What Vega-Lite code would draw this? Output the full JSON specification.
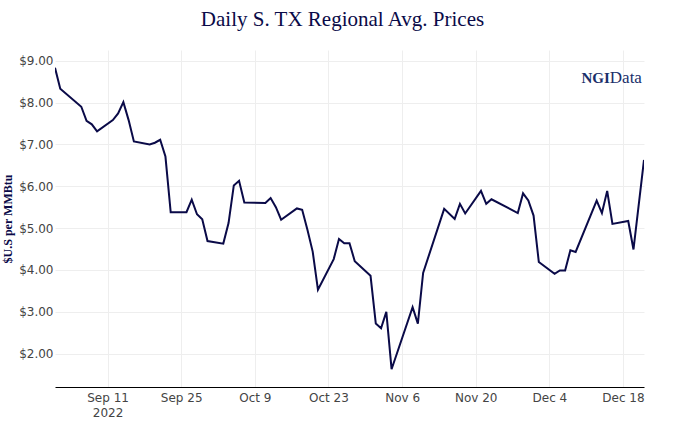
{
  "$schema": "https://vega.github.io/schema/vega-lite/v6.json",
  "autosize": "none",
  "width": 589,
  "height": 337,
  "padding": {"left": 55, "top": 50, "right": 40, "bottom": 40},
  "background": "white",
  "title": {
    "text": "Daily S. TX Regional Avg. Prices",
    "font": "Liberation Serif",
    "fontSize": 21,
    "fontWeight": "normal",
    "color": "#0a0a48",
    "anchor": "middle",
    "baseline": "alphabetic",
    "offset": 3,
    "dx": -7
  },
  "config": {
    "view": {"stroke": null},
    "axis": {"gridColor": "#eeeeee", "gridWidth": 1, "ticks": false}
  },
  "datasets": {
    "prices": [
      {"date": "2022-09-01", "price": 8.83},
      {"date": "2022-09-02", "price": 8.33},
      {"date": "2022-09-06", "price": 7.90},
      {"date": "2022-09-07", "price": 7.56},
      {"date": "2022-09-08", "price": 7.48},
      {"date": "2022-09-09", "price": 7.31},
      {"date": "2022-09-12", "price": 7.58},
      {"date": "2022-09-13", "price": 7.74},
      {"date": "2022-09-14", "price": 8.01},
      {"date": "2022-09-15", "price": 7.58},
      {"date": "2022-09-16", "price": 7.07},
      {"date": "2022-09-19", "price": 7.00},
      {"date": "2022-09-20", "price": 7.04},
      {"date": "2022-09-21", "price": 7.11},
      {"date": "2022-09-22", "price": 6.71},
      {"date": "2022-09-23", "price": 5.38},
      {"date": "2022-09-26", "price": 5.38},
      {"date": "2022-09-27", "price": 5.68},
      {"date": "2022-09-28", "price": 5.33},
      {"date": "2022-09-29", "price": 5.21},
      {"date": "2022-09-30", "price": 4.69},
      {"date": "2022-10-03", "price": 4.63},
      {"date": "2022-10-04", "price": 5.12},
      {"date": "2022-10-05", "price": 6.02},
      {"date": "2022-10-06", "price": 6.13},
      {"date": "2022-10-07", "price": 5.61},
      {"date": "2022-10-11", "price": 5.60},
      {"date": "2022-10-12", "price": 5.72},
      {"date": "2022-10-13", "price": 5.50},
      {"date": "2022-10-14", "price": 5.20},
      {"date": "2022-10-17", "price": 5.47},
      {"date": "2022-10-18", "price": 5.44},
      {"date": "2022-10-19", "price": 4.96},
      {"date": "2022-10-20", "price": 4.44},
      {"date": "2022-10-21", "price": 3.53},
      {"date": "2022-10-24", "price": 4.26},
      {"date": "2022-10-25", "price": 4.74},
      {"date": "2022-10-26", "price": 4.64},
      {"date": "2022-10-27", "price": 4.64},
      {"date": "2022-10-28", "price": 4.21},
      {"date": "2022-10-31", "price": 3.86},
      {"date": "2022-11-01", "price": 2.72},
      {"date": "2022-11-02", "price": 2.61},
      {"date": "2022-11-03", "price": 3.00},
      {"date": "2022-11-04", "price": 1.63},
      {"date": "2022-11-08", "price": 3.11},
      {"date": "2022-11-09", "price": 2.72},
      {"date": "2022-11-10", "price": 3.93},
      {"date": "2022-11-14", "price": 5.46},
      {"date": "2022-11-16", "price": 5.22},
      {"date": "2022-11-17", "price": 5.58},
      {"date": "2022-11-18", "price": 5.35},
      {"date": "2022-11-21", "price": 5.89},
      {"date": "2022-11-22", "price": 5.58},
      {"date": "2022-11-23", "price": 5.69},
      {"date": "2022-11-28", "price": 5.36},
      {"date": "2022-11-29", "price": 5.83},
      {"date": "2022-11-30", "price": 5.66},
      {"date": "2022-12-01", "price": 5.30},
      {"date": "2022-12-02", "price": 4.19},
      {"date": "2022-12-05", "price": 3.91},
      {"date": "2022-12-06", "price": 3.99},
      {"date": "2022-12-07", "price": 3.99},
      {"date": "2022-12-08", "price": 4.47},
      {"date": "2022-12-09", "price": 4.43},
      {"date": "2022-12-13", "price": 5.66},
      {"date": "2022-12-14", "price": 5.36},
      {"date": "2022-12-15", "price": 5.89},
      {"date": "2022-12-16", "price": 5.10},
      {"date": "2022-12-19", "price": 5.17},
      {"date": "2022-12-20", "price": 4.49},
      {"date": "2022-12-22", "price": 6.63}
    ],
    "logo": [
      {"date": "2022-12-15T12:00:00Z", "price": 8.59, "label": "NGI", "part": "bold"},
      {"date": "2022-12-15T12:00:00Z", "price": 8.59, "label": "Data", "part": "normal"}
    ]
  },
  "layer": [
    {
      "data": {"name": "prices"},
      "mark": {"type": "line", "color": "#0a0a48", "strokeWidth": 2, "clip": true},
      "encoding": {
        "x": {
          "field": "date",
          "type": "temporal",
          "scale": {"type": "utc", "domain": [{"year": 2022, "month": 9, "date": 1, "utc": true}, {"year": 2022, "month": 12, "date": 22, "utc": true}], "nice": false},
          "axis": {
            "title": null,
            "values": [
              {"year": 2022, "month": 9, "date": 11, "utc": true},
              {"year": 2022, "month": 9, "date": 25, "utc": true},
              {"year": 2022, "month": 10, "date": 9, "utc": true},
              {"year": 2022, "month": 10, "date": 23, "utc": true},
              {"year": 2022, "month": 11, "date": 6, "utc": true},
              {"year": 2022, "month": 11, "date": 20, "utc": true},
              {"year": 2022, "month": 12, "date": 4, "utc": true},
              {"year": 2022, "month": 12, "date": 18, "utc": true}
            ],
            "labelExpr": "utcmonth(datum.value) == 8 && utcdate(datum.value) == 11 ? ['Sep 11', '2022'] : utcFormat(datum.value, '%b %-d')",
            "labelFont": "DejaVu Sans",
            "labelFontSize": 12,
            "labelColor": "#444444",
            "labelPadding": 5,
            "labelLineHeight": 15,
            "labelBaseline": "top",
            "domain": true,
            "domainColor": "#000000",
            "domainWidth": 1,
            "grid": true
          }
        },
        "y": {
          "field": "price",
          "type": "quantitative",
          "scale": {"domain": [1.205, 9.255], "nice": false, "zero": false},
          "axis": {
            "title": "$U.S per MMBtu",
            "titleFont": "Liberation Serif",
            "titleFontWeight": "bold",
            "titleFontSize": 12,
            "titleColor": "#0a0a48",
            "titlePadding": 4,
            "values": [2, 3, 4, 5, 6, 7, 8, 9],
            "format": "$.2f",
            "labelFont": "DejaVu Sans",
            "labelFontSize": 12,
            "labelColor": "#444444",
            "labelPadding": 2,
            "domain": false,
            "grid": true
          }
        }
      }
    },
    {
      "data": {"name": "logo"},
      "transform": [{"filter": "datum.part == 'bold'"}],
      "mark": {"type": "text", "font": "Liberation Serif", "fontWeight": "bold", "fontSize": 15, "color": "#1a2f6b", "align": "right", "baseline": "middle"},
      "encoding": {
        "x": {"field": "date", "type": "temporal"},
        "y": {"field": "price", "type": "quantitative"},
        "text": {"field": "label"}
      }
    },
    {
      "data": {"name": "logo"},
      "transform": [{"filter": "datum.part == 'normal'"}],
      "mark": {"type": "text", "font": "Liberation Serif", "fontSize": 17, "color": "#1a2f6b", "align": "left", "baseline": "middle"},
      "encoding": {
        "x": {"field": "date", "type": "temporal"},
        "y": {"field": "price", "type": "quantitative"},
        "text": {"field": "label"}
      }
    }
  ]
}
